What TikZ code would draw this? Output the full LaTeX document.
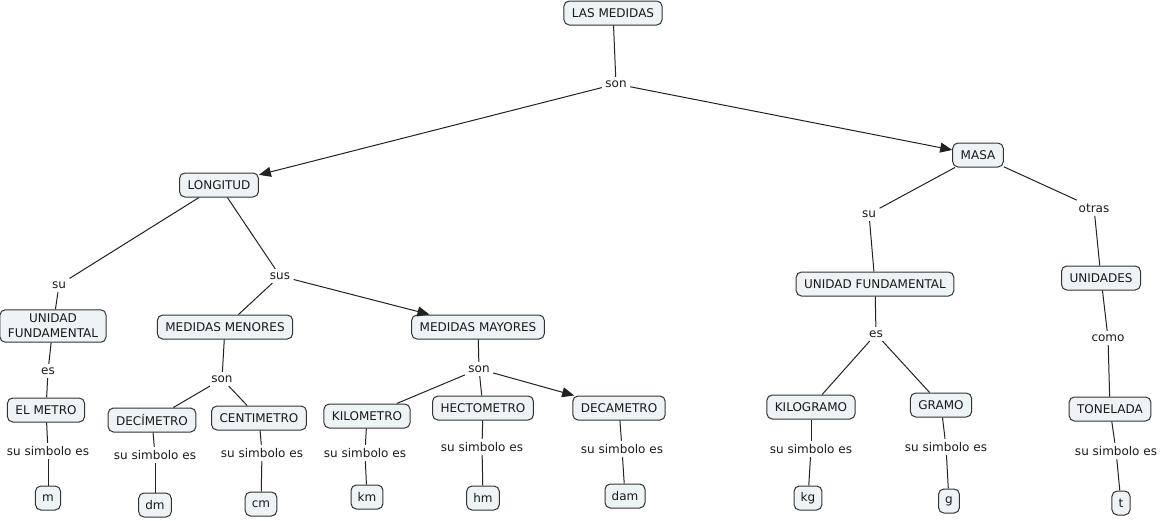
\documentclass[tikz,border=0pt]{standalone}
\usepackage{fontspec}
\setmainfont{DejaVu Sans}
\usetikzlibrary{arrows.meta}

\begin{document}
\begin{tikzpicture}[x=0.75pt,y=-0.75pt,
  concepto/.style={draw=borde,fill=caja,rounded corners=4pt,inner xsep=6pt,
    minimum height=18pt,line width=0.75pt,text=texto,font=\fontsize{9}{11}\selectfont},
  enlace/.style={inner sep=2.5pt,text=texto,font=\fontsize{9}{11}\selectfont},
  linea/.style={draw=trazo,line width=0.75pt},
  flecha/.style={linea,-{Triangle[length=9pt,width=7.5pt]}}]
\definecolor{borde}{HTML}{333333}
\definecolor{trazo}{HTML}{222222}
\definecolor{caja}{HTML}{EEF3F6}
\definecolor{texto}{HTML}{1A1A1A}
\useasboundingbox (0,0) rectangle (1160,521);
% conceptos
\node [concepto] (medidas) at (613,13) {LAS MEDIDAS};
\node [concepto] (longitud) at (219,185) {LONGITUD};
\node [concepto] (masa) at (978,155) {MASA};
\node [concepto,align=center] (unidadL) at (53,326) {UNIDAD\\FUNDAMENTAL};
\node [concepto] (menores) at (225,327) {MEDIDAS MENORES};
\node [concepto] (mayores) at (478,327) {MEDIDAS MAYORES};
\node [concepto] (metro) at (46,410) {EL METRO};
\node [concepto] (deci) at (152,420) {DECÍMETRO};
\node [concepto] (centi) at (259,418) {CENTIMETRO};
\node [concepto] (kilo) at (367,416) {KILOMETRO};
\node [concepto] (hecto) at (483,408) {HECTOMETRO};
\node [concepto] (deca) at (619,408) {DECAMETRO};
\node [concepto] (unidadM) at (875,284) {UNIDAD FUNDAMENTAL};
\node [concepto] (unidades) at (1101,278) {UNIDADES};
\node [concepto] (kilogramo) at (811,407) {KILOGRAMO};
\node [concepto] (gramo) at (941,405) {GRAMO};
\node [concepto] (tonelada) at (1110,409) {TONELADA};
\foreach \nombre/\sim/\x/\y in {m/m/48/498,dm/dm/155/505,cm/cm/261/504,km/km/367/497,
    hm/hm/483/498,dam/dam/625/496,kg/kg/808/498,g/g/949/501,t/t/1121/503}
  {\node [concepto,inner xsep=5pt] (s\nombre) at (\x,\y) {\sim};}
% enlaces
\node [enlace] (son) at (616,84) {son};
\node [enlace] (suL) at (59,285) {su};
\node [enlace] (sus) at (280,276) {sus};
\node [enlace] (esL) at (48,371) {es};
\node [enlace] (sonMen) at (222,379) {son};
\node [enlace] (sonMay) at (479,369) {son};
\node [enlace] (suM) at (869,214) {su};
\node [enlace] (otras) at (1094,208) {otras};
\node [enlace] (esM) at (876,334) {es};
\node [enlace] (como) at (1108,338) {como};
\foreach \nombre/\x/\y in {m/48/451,dm/155/455,cm/262/453,km/365/453,hm/482/447,
    dam/622/449,kg/811/449,g/946/447,t/1116/451}
  {\node [enlace] (l\nombre) at (\x,\y) {su simbolo es};}
% conectores
\draw [linea] (medidas) -- (son);
\draw [flecha] (son) -- (longitud);
\draw [flecha] (son) -- (masa);
\draw [flecha] (sus) -- (mayores);
\draw [flecha] (sonMay) -- (deca);
\foreach \a/\b in {longitud/suL,suL/unidadL,longitud/sus,sus/menores,unidadL/esL,esL/metro,
    menores/sonMen,sonMen/deci,sonMen/centi,mayores/sonMay,sonMay/kilo,sonMay/hecto,
    masa/suM,suM/unidadM,masa/otras,otras/unidades,unidadM/esM,esM/kilogramo,esM/gramo,
    unidades/como,como/tonelada,
    metro/lm,lm/sm,deci/ldm,ldm/sdm,centi/lcm,lcm/scm,kilo/lkm,lkm/skm,hecto/lhm,lhm/shm,
    deca/ldam,ldam/sdam,kilogramo/lkg,lkg/skg,gramo/lg,lg/sg,tonelada/lt,lt/st}
  {\draw [linea] (\a) -- (\b);}
\end{tikzpicture}
\end{document}
